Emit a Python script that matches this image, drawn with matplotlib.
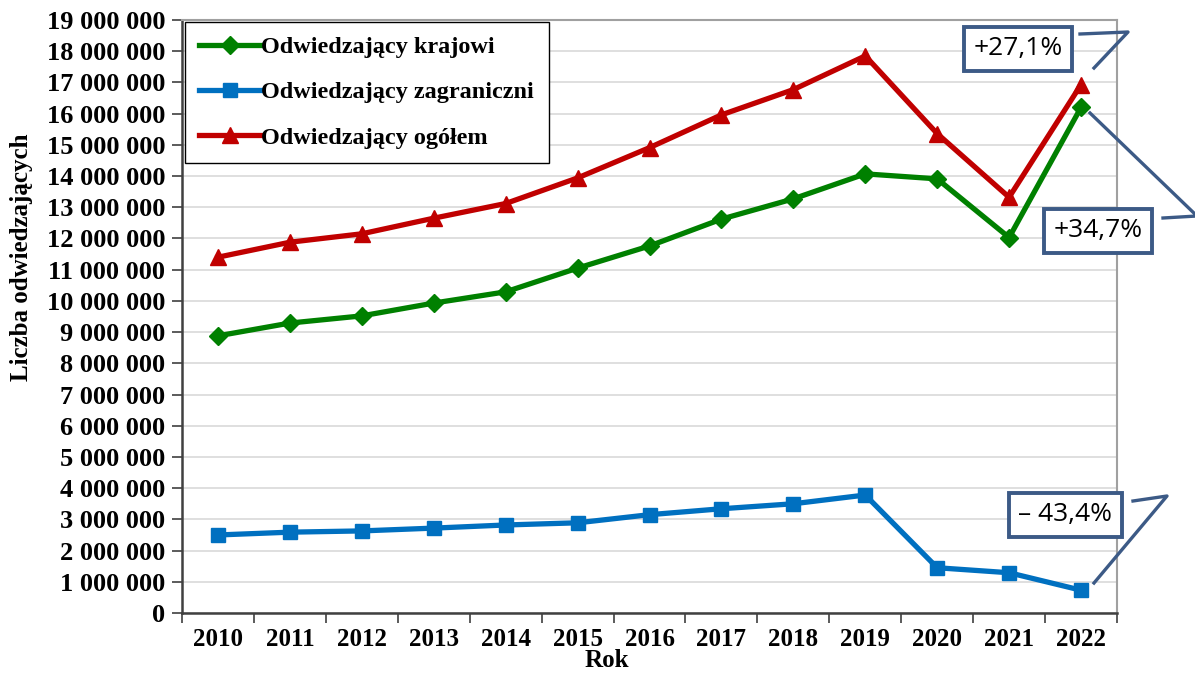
import numpy as np
import matplotlib
matplotlib.use("Agg")
import matplotlib.pyplot as plt
from matplotlib.lines import Line2D
from matplotlib.ticker import FuncFormatter, MultipleLocator

# ── data ─────────────────────────────────────────────────────────────────────
years = ["2010", "2011", "2012", "2013", "2014", "2015", "2016",
         "2017", "2018", "2019", "2020", "2021", "2022"]
krajowi = [8.88, 9.29, 9.52, 9.93, 10.29, 11.05, 11.76,
           12.62, 13.27, 14.07, 13.91, 12.03, 16.20]
zagraniczni = [2.50, 2.59, 2.63, 2.72, 2.82, 2.89, 3.15,
               3.34, 3.50, 3.78, 1.45, 1.29, 0.73]
ogolem = [11.40, 11.88, 12.15, 12.65, 13.12, 13.94, 14.91,
          15.96, 16.77, 17.85, 15.36, 13.32, 16.93]
labels = ["Odwiedzający krajowi", "Odwiedzający zagraniczni", "Odwiedzający ogółem"]
changes = ["+27,1%", "+34,7%", "\u2013 43,4%"]

W, H = 1195, 675
serif = ["Liberation Serif", "DejaVu Serif"]
plt.rcParams["font.family"] = serif
plt.rcParams["font.weight"] = "bold"

fig = plt.figure(figsize=(W / 100, H / 100), dpi=100)
ax = fig.add_axes([182 / W, 1 - 613 / H, (1117 - 182) / W, (613 - 20) / H])

x = np.arange(len(years))
mil = 1_000_000
ax.plot(x, np.array(krajowi) * mil, color="#008000", lw=3.8, marker="D",
        ms=9, label=labels[0], zorder=3)
ax.plot(x, np.array(zagraniczni) * mil, color="#0070C0", lw=3.8, marker="s",
        ms=10.5, label=labels[1], zorder=3)
ax.plot(x, np.array(ogolem) * mil, color="#C00000", lw=3.8, marker="^",
        ms=11.5, label=labels[2], zorder=3)

# ── axes ─────────────────────────────────────────────────────────────────────
ax.set_xlim(-0.5, len(years) - 0.5)
ax.set_ylim(0, 19 * mil)
ax.yaxis.set_major_locator(MultipleLocator(mil))
ax.yaxis.set_major_formatter(FuncFormatter(lambda v, p: f"{int(round(v)):,}".replace(",", " ")))
ax.set_xticks(np.arange(len(years) + 1) - 0.5)
ax.set_xticklabels([])
ax.set_xticks(x, minor=True)
ax.set_xticklabels(years, minor=True)
ax.tick_params(axis="x", which="minor", length=0, pad=11, labelsize=18)
ax.tick_params(axis="x", which="major", length=7, width=1.2, color="#404040")
ax.tick_params(axis="y", length=7, width=1.2, color="#404040", labelsize=19, pad=5)
for t in ax.get_yticklabels() + ax.get_xticklabels(minor=True):
    t.set_fontweight("bold")

ax.grid(axis="y", color="#D9D9D9", lw=1.2, zorder=0)
ax.set_axisbelow(True)
for s in ("left", "bottom"):
    ax.spines[s].set_color("#404040")
    ax.spines[s].set_linewidth(1.8)
for s in ("top", "right"):
    ax.spines[s].set_color("#A0A0A0")
    ax.spines[s].set_linewidth(1.5)

fig.text(22 / W, 1 - 257 / H, "Liczba odwiedzających", rotation=90,
         ha="center", va="center", fontsize=18, fontweight="bold")
fig.text(607 / W, 3 / H, "Rok", ha="center", va="bottom",
         fontsize=18, fontweight="bold")

leg = ax.legend(loc="upper left", bbox_to_anchor=(0.003, 0.997), fontsize=17.5,
                frameon=True, fancybox=False, edgecolor="black", framealpha=1,
                handlelength=2.5, handletextpad=0.05, labelspacing=0.95,
                borderpad=0.6, borderaxespad=0)
leg.get_frame().set_linewidth(1.0)
for t in leg.get_texts():
    t.set_fontweight("bold")

# ── callouts (figure pixel coords, origin top-left) ─────────────────────────
def fx(px):
    return px / W

def fy(py):
    return 1 - py / H

box_color = "#3C5A86"
callouts = [
    # (text, text centre, line path)
    (changes[0], (1018, 49), [(1080, 34), (1128, 32), (1094, 68)]),
    (changes[1], (1098, 231), [(1163, 218), (1197, 216), (1090, 113)]),
    (changes[2], (1065, 515), [(1133, 501), (1167, 496), (1094, 583)]),
]
for txt, (cx, cy), path in callouts:
    fig.text(fx(cx), fy(cy), txt, ha="center", va="center", fontsize=19,
             fontweight="normal", family=["Open Sans", "DejaVu Sans"],
             bbox=dict(boxstyle="square,pad=0.36", fc="white",
                       ec=box_color, lw=2.8), zorder=10)
    fig.add_artist(Line2D([fx(p[0]) for p in path], [fy(p[1]) for p in path],
                          color=box_color, lw=2.4, zorder=9))

fig.savefig("out.png", dpi=100)
